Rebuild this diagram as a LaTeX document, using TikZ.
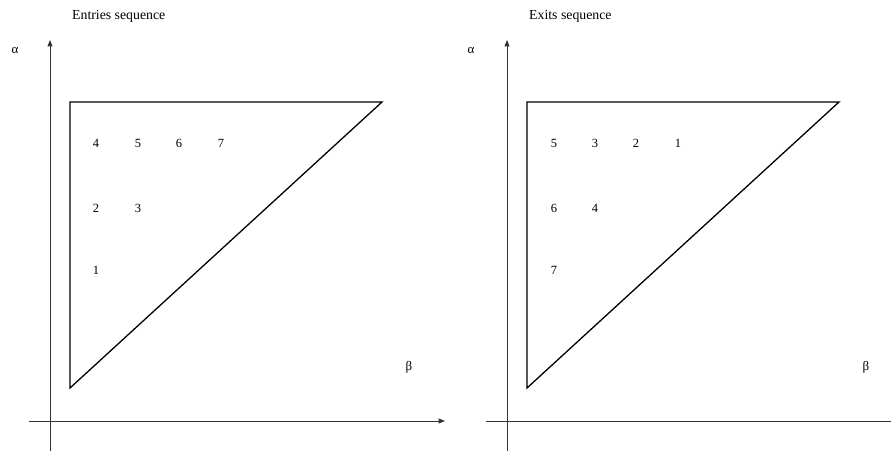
\documentclass[tikz,border=0pt]{standalone}
\usepackage{fontspec}
\setmainfont{Liberation Serif}
\usetikzlibrary{arrows.meta,positioning}
\tikzset{
  axis/.style={draw=black!80, line width=0.8pt},
  axisarrow/.style={axis, -{Triangle[length=2.2mm,width=1.7mm]}},
  region/.style={draw=black, line width=1.3pt, line join=miter},
  idx/.style={font=\fontsize{12.5}{14}\selectfont, inner sep=0pt},
  ttl/.style={font=\fontsize{13.8}{15}\selectfont, anchor=base west, inner sep=0pt},
  sym/.style={font=\fontsize{13}{14}\selectfont, inner sep=0pt},
}
\begin{document}
\begin{tikzpicture}[x=1pt, y=-1pt]
  \useasboundingbox (0,0) rectangle (891,451);
  % left panel: entries
  \coordinate (LyB) at (50,451);
  \coordinate (LyT) at (50,40);
  \coordinate (LxL) at (29,421);
  \coordinate (LxR) at (445,421);
  \draw[axisarrow] (LyB) -- (LyT);
  \draw[axisarrow] (LxL) -- (LxR);
  \coordinate (LA) at (70,102);
  \coordinate (LB) at (382,102);
  \coordinate (LC) at (70,388);
  \draw[region] (LA) -- (LB) -- (LC) -- cycle;
  \node[ttl] (Ltitle) at (72,19) {Entries sequence};
  \node[sym] (Lalpha) at (15,50) {α};
  \node[sym] (Lbeta) at (409,367) {β};
  \node[idx] (L4) at (96,143.5) {4};
  \node[idx] (L5) at (138,143.5) {5};
  \node[idx] (L6) at (179,143.5) {6};
  \node[idx] (L7) at (221,143.5) {7};
  \node[idx] (L2) at (96,208) {2};
  \node[idx] (L3) at (138,208) {3};
  \node[idx] (L1) at (96,270) {1};
  % right panel: exits
  \coordinate (RyB) at (507,451);
  \coordinate (RyT) at (507,40);
  \coordinate (RxL) at (486,421);
  \coordinate (RxR) at (891,421);
  \draw[axisarrow] (RyB) -- (RyT);
  \draw[axis] (RxL) -- (RxR);
  \coordinate (RA) at (527,102);
  \coordinate (RB) at (839,102);
  \coordinate (RC) at (527,388);
  \draw[region] (RA) -- (RB) -- (RC) -- cycle;
  \node[ttl] (Rtitle) at (529,19) {Exits sequence};
  \node[sym] (Ralpha) at (471,50) {α};
  \node[sym] (Rbeta) at (866,367) {β};
  \node[idx] (R5) at (554,143.5) {5};
  \node[idx] (R3) at (595,143.5) {3};
  \node[idx] (R2) at (636,143.5) {2};
  \node[idx] (R1) at (678,143.5) {1};
  \node[idx] (R6) at (554,208) {6};
  \node[idx] (R4) at (595,208) {4};
  \node[idx] (R7) at (554,270) {7};
\end{tikzpicture}
\end{document}
